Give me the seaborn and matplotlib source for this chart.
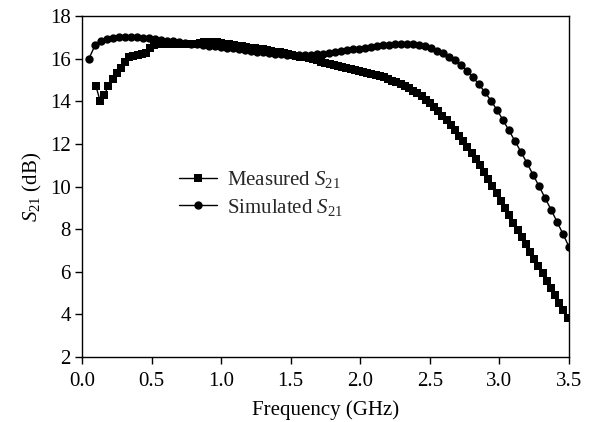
import numpy as np
import pandas as pd
import seaborn as sns
import matplotlib.pyplot as plt

# frequency sweeps (GHz): measured every 0.03 GHz, simulated 81 points
freq_meas = np.linspace(0.10, 3.49, 114)
freq_sim = np.linspace(0.05, 3.50, 81)

# S21 (dB)
s21_meas = [
    14.72, 14.02, 14.30, 14.72, 15.03, 15.31, 15.57, 15.83, 16.08, 16.14,
    16.17, 16.20, 16.25, 16.48, 16.62, 16.68, 16.70, 16.71, 16.70, 16.70,
    16.69, 16.70, 16.71, 16.70, 16.71, 16.73, 16.76, 16.80, 16.80, 16.76,
    16.72, 16.70, 16.67, 16.64, 16.61, 16.58, 16.55, 16.52, 16.49, 16.46,
    16.43, 16.40, 16.36, 16.33, 16.29, 16.26, 16.22, 16.18, 16.14, 16.10,
    16.06, 16.02, 15.97, 15.92, 15.86, 15.80, 15.75, 15.70, 15.65, 15.60,
    15.55, 15.50, 15.46, 15.41, 15.37, 15.32, 15.27, 15.23, 15.18, 15.12,
    15.05, 14.97, 14.89, 14.80, 14.70, 14.60, 14.49, 14.37, 14.25, 14.08,
    13.90, 13.72, 13.55, 13.32, 13.10, 12.87, 12.63, 12.39, 12.13, 11.86,
    11.58, 11.29, 11.00, 10.68, 10.35, 10.02, 9.68, 9.34, 9.00, 8.65,
    8.31, 7.97, 7.63, 7.29, 6.95, 6.61, 6.27, 5.93, 5.59, 5.24,
    4.89, 4.54, 4.19, 3.83,
]
s21_sim = [
    16.00, 16.62, 16.82, 16.93, 16.98, 17.01, 17.02, 17.02, 17.00, 16.98,
    16.95, 16.92, 16.88, 16.85, 16.81, 16.78, 16.74, 16.71, 16.67, 16.64,
    16.61, 16.58, 16.55, 16.52, 16.48, 16.44, 16.40, 16.36, 16.32, 16.29,
    16.26, 16.23, 16.21, 16.19, 16.18, 16.17, 16.17, 16.18, 16.20, 16.23,
    16.27, 16.31, 16.35, 16.39, 16.43, 16.47, 16.51, 16.55, 16.59, 16.62,
    16.65, 16.68, 16.70, 16.71, 16.70, 16.66, 16.59, 16.49, 16.37, 16.26,
    16.10, 15.92, 15.68, 15.43, 15.13, 14.79, 14.42, 14.03, 13.59, 13.12,
    12.63, 12.13, 11.62, 11.10, 10.56, 10.02, 9.47, 8.92, 8.35, 7.77,
    7.17,
]

sns.set_theme(style='ticks')
plt.rcParams['font.family'] = ['Liberation Serif', 'DejaVu Serif']
plt.rcParams['mathtext.fontset'] = 'custom'
plt.rcParams['mathtext.rm'] = 'Liberation Serif'
plt.rcParams['mathtext.it'] = 'Liberation Serif:italic'
plt.rcParams['font.size'] = 15

fig, ax = plt.subplots(figsize=(5.95, 4.22), dpi=100)
fig.subplots_adjust(left=0.1378, right=0.9563, bottom=0.154, top=0.962)

meas = pd.DataFrame({'f': freq_meas, 's21': s21_meas})
sim = pd.DataFrame({'f': freq_sim, 's21': s21_sim})

sns.lineplot(data=meas, x='f', y='s21', ax=ax, color='black', linewidth=1,
             marker='s', markersize=5.8, markeredgewidth=0,
             label=r'Measured $S_{21}$')
sns.lineplot(data=sim, x='f', y='s21', ax=ax, color='black', linewidth=1,
             marker='o', markersize=6, markeredgewidth=0,
             label=r'Simulated $S_{21}$')

ax.set_xlim(0, 3.5)
ax.set_ylim(2, 18)
ax.set_xticks(np.arange(0, 3.51, 0.5))
ax.set_yticks(np.arange(2, 18.1, 2))
ax.xaxis.set_major_formatter(plt.FormatStrFormatter('%.1f'))
ax.tick_params(direction='out', length=5, width=1, labelsize=15,
               colors='black', top=False, right=False)
ax.tick_params(axis='x', pad=5.5)
ax.tick_params(axis='y', pad=3)
for sp in ax.spines.values():
    sp.set_visible(True)
    sp.set_color('black')
    sp.set_linewidth(1)

ax.set_xlabel('Frequency (GHz)', fontsize=15, color='black', labelpad=7)
ax.set_ylabel(r'$S_{21}$ (dB)', fontsize=15, color='black')

ax.legend(loc='upper left', bbox_to_anchor=(0.2, 0.55), frameon=False,
          fontsize=15, handlelength=1.8, handletextpad=0.5,
          labelspacing=0.3, borderpad=0, borderaxespad=0)

plt.savefig('out.png', dpi=100)
